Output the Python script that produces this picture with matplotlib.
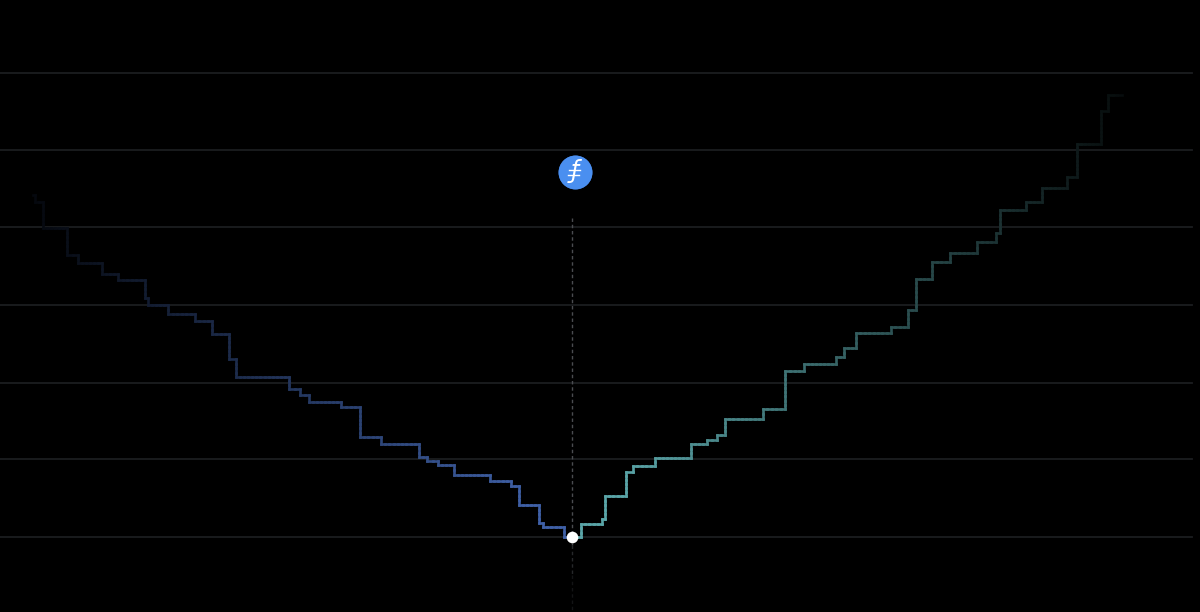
import numpy as np
import matplotlib.pyplot as plt
from matplotlib.collections import LineCollection
from matplotlib.colors import to_rgb

# step edges and levels (image pixel units)
bid_x = [33, 35, 43, 67, 78, 102, 118, 145, 148, 168, 195, 212, 229, 236, 289, 300, 309,
         341, 360, 381, 419, 427, 438, 454, 490, 511, 519, 539, 543, 564, 572]
bid_y = [195, 202, 228, 255, 263, 274, 280, 298, 305, 314, 321, 334, 359, 377, 389, 395,
         402, 407, 437, 444, 457, 461, 465, 475, 481, 486, 505, 523, 527, 537]

ask_x = [572, 581, 602, 605, 626, 633, 655, 691, 707, 717, 725, 763, 785, 804, 836, 844,
         856, 891, 908, 916, 932, 950, 977, 996, 1000, 1026, 1042, 1067, 1077, 1101, 1108, 1122]
ask_y = [537, 524, 519, 496, 472, 466, 458, 444, 440, 435, 419, 409, 371, 364, 357, 348,
         333, 327, 310, 279, 262, 253, 242, 233, 210, 202, 188, 177, 144, 111, 95]

grid_y = [73, 150, 227, 305, 383, 459, 537]
mid_x = 572
mid_y = 537
icon_x = 574.5
icon_y = 171.5


def step_points(xs, ys):
    # horizontal run at each level, then a vertical jump at the next edge
    px = np.repeat(xs, 2)[1:-1]
    py = np.repeat(ys, 2)
    return np.column_stack([px, py])


def fading_line(ax, pts, color, x_bright, x_dark, lw=1.9):
    # split into short pieces so the colour can fade out with distance from the middle
    rgb = np.array(to_rgb(color))
    segs = []
    cols = []
    for a, b in zip(pts[:-1], pts[1:]):
        n = max(int(np.hypot(*(b - a)) / 4), 1)
        ts = np.linspace(0, 1, n + 1)
        for t0, t1 in zip(ts[:-1], ts[1:]):
            p0 = a + (b - a) * t0
            p1 = a + (b - a) * t1
            segs.append([p0, p1])
            f = (x_dark - (p0[0] + p1[0]) / 2) / (x_dark - x_bright)
            cols.append(rgb * np.clip(f, 0, 1))
    ax.add_collection(LineCollection(segs, colors=cols, linewidths=lw, capstyle='projecting', zorder=3))


fig = plt.figure(figsize=(12, 6.12), dpi=100, facecolor='black')
ax = fig.add_axes([0, 0, 1, 1])
ax.set_facecolor('black')
ax.set_xlim(0, 1200)
ax.set_ylim(612, 0)
ax.axis('off')

# grid
for y in grid_y:
    ax.plot([0, 1192], [y, y], color='#1b1d20', lw=1.3, zorder=1)

# dashed mid line, dims out below the dot
ax.plot([mid_x, mid_x], [218, 545], color='#4a4c50', lw=1, ls=(0, (2.5, 2)), zorder=2)
ax.plot([mid_x, mid_x], [545, 575], color='#26282a', lw=1, ls=(0, (2.5, 2)), zorder=2)
ax.plot([mid_x, mid_x], [575, 612], color='#131415', lw=1, ls=(0, (2.5, 2)), zorder=2)

# depth steps
fading_line(ax, step_points(bid_x, bid_y), '#3f60a6', 530, -10)
fading_line(ax, step_points(ask_x, ask_y), '#5aa5a8', 620, 1160)

# mid price dot
ax.scatter([mid_x], [mid_y], s=70, color='white', zorder=5, linewidths=0)

# coin icon
ax.scatter([icon_x], [icon_y + 0.7], s=600, color='#3b70c0', zorder=4, linewidths=0)
ax.scatter([icon_x], [icon_y], s=590, color='#4a8ff0', zorder=4, linewidths=0)
ax.text(icon_x, icon_y - 0.5, '\u0192', color='white', fontsize=17, family='DejaVu Sans',
        style='oblique', ha='center', va='center', zorder=6)
ax.plot([569, 580], [169.5, 169.5], color='white', lw=1, zorder=6)
ax.plot([568, 579], [174.5, 174.5], color='white', lw=1, zorder=6)

fig.savefig('out.png', dpi=100, facecolor='black')
